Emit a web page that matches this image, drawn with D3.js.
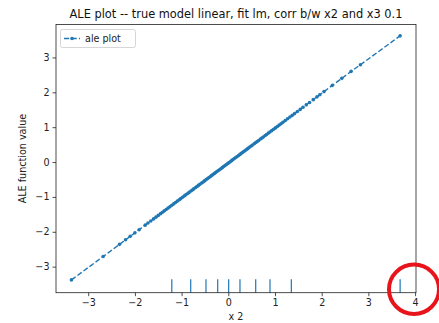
<!DOCTYPE html>
<html><head><meta charset="utf-8">
<script src="https://cdn.jsdelivr.net/npm/d3@7"></script>
<style>body{margin:0;background:#fff}svg{display:block}text{font-family:"DejaVu Sans",sans-serif}</style>
</head><body>
<svg id="c" width="439" height="323"></svg>
<script>
const title = "ALE plot -- true model linear, fit lm, corr b/w x2 and x3 0.1";
const xLabel = "x 2";
const yLabel = "ALE function value";
const legendLabel = "ale plot";
const xTicks = [-3,-2,-1,0,1,2,3,4];
const yTicks = [-3,-2,-1,0,1,2,3];
const aleX = [-3.36,-2.68,-2.33,-2.20,-2.10,-2.00,-1.91,-1.78,-1.72,-1.66,-1.60,-1.55,-1.50,-1.45,-1.41,-1.37,-1.33,-1.29,-1.25,-1.21,-1.17,-1.13,-1.09,-1.05,-1.02,-0.98,-0.94,-0.91,-0.87,-0.84,-0.80,-0.77,-0.74,-0.70,-0.67,-0.64,-0.61,-0.57,-0.54,-0.51,-0.48,-0.45,-0.42,-0.39,-0.36,-0.33,-0.30,-0.28,-0.25,-0.22,-0.19,-0.16,-0.13,-0.10,-0.07,-0.04,-0.01,0.01,0.04,0.07,0.10,0.13,0.16,0.19,0.22,0.25,0.28,0.31,0.34,0.37,0.40,0.43,0.46,0.49,0.52,0.56,0.59,0.62,0.65,0.69,0.72,0.75,0.79,0.82,0.86,0.89,0.93,0.97,1.01,1.05,1.09,1.13,1.17,1.22,1.27,1.32,1.37,1.42,1.48,1.54,1.60,1.67,1.74,1.82,1.90,1.96,2.05,2.23,2.43,2.63,2.83,3.68];
const aleY = [-3.38,-2.71,-2.36,-2.23,-2.13,-2.03,-1.94,-1.81,-1.75,-1.69,-1.63,-1.58,-1.53,-1.48,-1.44,-1.40,-1.36,-1.32,-1.28,-1.24,-1.20,-1.16,-1.12,-1.08,-1.05,-1.01,-0.97,-0.94,-0.90,-0.87,-0.83,-0.80,-0.77,-0.73,-0.70,-0.67,-0.64,-0.60,-0.57,-0.54,-0.51,-0.48,-0.45,-0.42,-0.39,-0.36,-0.33,-0.31,-0.28,-0.25,-0.22,-0.19,-0.16,-0.13,-0.10,-0.07,-0.04,-0.02,0.01,0.04,0.07,0.10,0.13,0.16,0.19,0.22,0.25,0.28,0.31,0.34,0.37,0.40,0.43,0.46,0.49,0.53,0.56,0.59,0.62,0.66,0.69,0.72,0.76,0.79,0.83,0.86,0.90,0.94,0.98,1.02,1.06,1.10,1.14,1.19,1.24,1.29,1.34,1.39,1.45,1.51,1.57,1.64,1.71,1.79,1.87,1.93,2.02,2.20,2.40,2.60,2.79,3.62];
const rugX = [-1.21,-0.805,-0.478,-0.227,0.008,0.25,0.587,0.893,1.35,3.68];

const L=56, R=416, T=24.5, B=292.7;
const x = d3.scaleLinear().domain([-3.69,4.02]).range([L,R]);
const y = d3.scaleLinear().domain([-3.747,3.945]).range([B,T]);
const blue = "#1f77b4";
const svg = d3.select("#c");

// line
const pts = aleX.map((v,i)=>[v,aleY[i]]);
const g = svg.append("g");
g.append("path").attr("d", d3.line().x(d=>x(d[0])).y(d=>y(d[1]))(pts))
  .attr("fill","none").attr("stroke",blue).attr("stroke-width",1.4).attr("stroke-dasharray","5.2,2.3");
g.selectAll("circle.p").data(pts).join("circle").attr("class","p")
  .attr("cx",d=>x(d[0])).attr("cy",d=>y(d[1])).attr("r",1.8).attr("fill",blue);

// rug (5% of axes height)
const rugH = (B-T)*0.05;
g.selectAll("line.rug").data(rugX).join("line").attr("class","rug")
  .attr("x1",d=>x(d)).attr("x2",d=>x(d)).attr("y1",B).attr("y2",B-rugH)
  .attr("stroke",blue).attr("stroke-width",1.2);

// axes
const xa = svg.append("g").attr("transform",`translate(0,${B})`)
  .call(d3.axisBottom(x).tickValues(xTicks).tickSize(3.5).tickPadding(3).tickFormat(d=>d<0?"\u2212"+Math.abs(d):d));
const ya = svg.append("g").attr("transform",`translate(${L},0)`)
  .call(d3.axisLeft(y).tickValues(yTicks).tickSize(3.5).tickPadding(3).tickFormat(d=>d<0?"\u2212"+Math.abs(d):d));
[xa,ya].forEach(a=>{a.select(".domain").remove();a.selectAll("text").attr("font-size",9.6).attr("fill","#222").style("font-family","DejaVu Sans");a.selectAll("line").attr("stroke","#222").attr("stroke-width",0.8);});

svg.append("rect").attr("x",L).attr("y",T).attr("width",R-L).attr("height",B-T)
  .attr("fill","none").attr("stroke","#222").attr("stroke-width",0.8);

// title and labels
svg.append("text").attr("x",(L+R)/2).attr("y",18).attr("text-anchor","middle").attr("font-size",11.4).attr("fill","#111").text(title);
svg.append("text").attr("x",(L+R)/2).attr("y",320).attr("text-anchor","middle").attr("font-size",9.6).attr("fill","#222").text(xLabel);
svg.append("text").attr("transform",`translate(26,${(T+B)/2}) rotate(-90)`).attr("text-anchor","middle").attr("font-size",9.6).attr("fill","#222").text(yLabel);

// legend
const lg = svg.append("g");
lg.append("rect").attr("x",60.5).attr("y",29.5).attr("width",75).attr("height",18).attr("rx",2)
  .attr("fill","#fff").attr("stroke","#ccc").attr("stroke-width",0.8);
lg.append("line").attr("x1",64).attr("x2",80).attr("y1",38.5).attr("y2",38.5)
  .attr("stroke",blue).attr("stroke-width",1.4).attr("stroke-dasharray","5.2,2.3");
lg.append("circle").attr("cx",72).attr("cy",38.5).attr("r",1.8).attr("fill",blue);
lg.append("text").attr("x",85).attr("y",42).attr("font-size",9.6).attr("fill","#222").text(legendLabel);

// red highlight annotation around the x=4 tick
svg.append("ellipse").attr("cx",414).attr("cy",289.3).attr("rx",25).attr("ry",24.7)
  .attr("fill","none").attr("stroke","#e8141c").attr("stroke-width",4);
</script>
</body></html>
